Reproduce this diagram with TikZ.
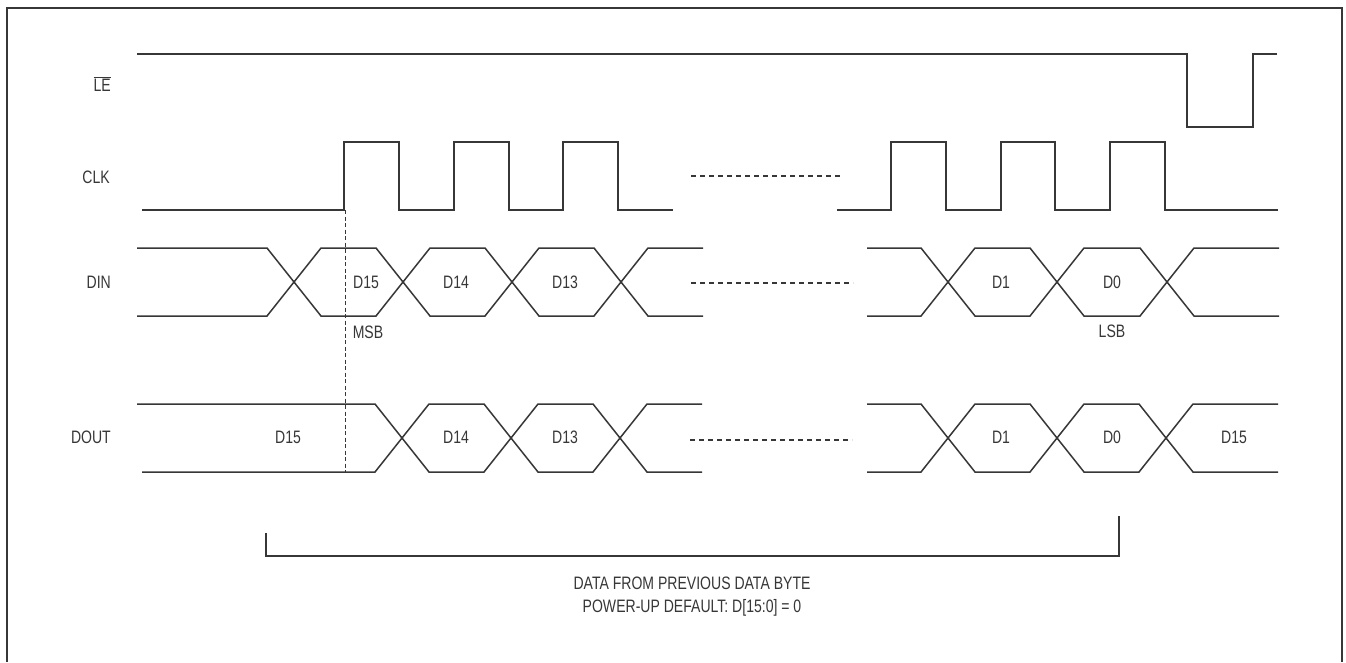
\documentclass[tikz,border=0pt]{standalone}
\usepackage{fontspec}
\setmainfont[FakeStretch=0.78]{Liberation Sans}
\definecolor{ink}{RGB}{55,55,55}
\newcommand\hexcell[4]{%
  \draw[sig] (#1,{(#3+#4)/2}) -- ({#1+27},#3) -- ({#2-27},#3) -- (#2,{(#3+#4)/2}) -- ({#2-27},#4) -- ({#1+27},#4) -- cycle;}
\newcommand\openleft[5]{% xstart xcross top bot xstartbottom
  \draw[sig] (#1,#3) -- ({#2-27},#3) -- (#2,{(#3+#4)/2}) -- ({#2-27},#4) -- (#5,#4);}
\newcommand\openright[4]{% xcross xend top bot
  \draw[sig] (#2,#3) -- ({#1+27},#3) -- (#1,{(#3+#4)/2}) -- ({#1+27},#4) -- (#2,#4);}
\begin{document}
\begin{tikzpicture}[x=1pt,y=-1pt,
  sig/.style={draw=ink,line width=1.5pt,line join=miter},
  dots/.style={draw=ink,line width=1.1pt,dash pattern=on 5pt off 4pt},
  lbl/.style={text=ink,font=\fontsize{18}{21}\selectfont,inner sep=0pt},
  rlbl/.style={lbl,anchor=east}]
\useasboundingbox (0,0) rectangle (1346,662);
\fill[white] (0,0) rectangle (1346,662);
% frame
\draw[ink,line width=2pt] (7,662) -- (7,8) -- (1342,8) -- (1342,662);
% labels
\node[rlbl] (lLE) at (111,84) {$\overline{\hbox{LE}}$};
\node[rlbl] (lCLK) at (110,177) {CLK};
\node[rlbl] (lDIN) at (111,282) {DIN};
\node[rlbl] (lDOUT) at (111,437) {DOUT};
% LE
\draw[sig] (137,54) -- (1187,54) -- (1187,127) -- (1253,127) -- (1253,54) -- (1277,54);
% CLK
\draw[sig] (142,210) -- (344,210) -- (344,142) -- (399,142) -- (399,210)
  -- (454,210) -- (454,142) -- (509,142) -- (509,210)
  -- (563,210) -- (563,142) -- (618,142) -- (618,210) -- (673,210);
\draw[sig] (837,210) -- (891,210) -- (891,142) -- (946,142) -- (946,210)
  -- (1001,210) -- (1001,142) -- (1055,142) -- (1055,210)
  -- (1110,210) -- (1110,142) -- (1165,142) -- (1165,210) -- (1278,210);
\coordinate (c1) at (691,176); \coordinate (c2) at (843,176);
\draw[dots] (c1) -- (c2);
% DIN
\openleft{137}{294}{248}{316}{137}
\hexcell{294}{403}{248}{316}
\hexcell{403}{512}{248}{316}
\hexcell{512}{621}{248}{316}
\openright{621}{703}{248}{316}
\openleft{867}{948}{248}{316}{867}
\hexcell{948}{1057}{248}{316}
\hexcell{1057}{1167}{248}{316}
\openright{1167}{1279}{248}{316}
\coordinate (d1) at (691,283); \coordinate (d2) at (853,283);
\draw[dots] (d1) -- (d2);
\node[lbl] (din15) at (366,282) {D15};
\node[lbl] (din14) at (456,282) {D14};
\node[lbl] (din13) at (565,282) {D13};
\node[lbl] (din1) at (1001,282) {D1};
\node[lbl] (din0) at (1112,282) {D0};
\node[lbl] (msb) at (368,332) {MSB};
\node[lbl] (lsb) at (1112,331) {LSB};
% DOUT
\openleft{137}{402}{404}{472}{142}
\hexcell{402}{511}{404}{472}
\hexcell{511}{620}{404}{472}
\openright{620}{702}{404}{472}
\openleft{867}{948}{404}{472}{867}
\hexcell{948}{1057}{404}{472}
\hexcell{1057}{1166}{404}{472}
\openright{1166}{1278}{404}{472}
\coordinate (o1) at (690,440); \coordinate (o2) at (852,440);
\draw[dots] (o1) -- (o2);
\node[lbl] (dout15) at (288,437) {D15};
\node[lbl] (dout14) at (456,437) {D14};
\node[lbl] (dout13) at (565,437) {D13};
\node[lbl] (dout1) at (1001,437) {D1};
\node[lbl] (dout0) at (1112,437) {D0};
\node[lbl] (dout15b) at (1234,437) {D15};
% MSB dashed marker
\coordinate (m1) at (345.5,210); \coordinate (m2) at (345.5,472);
\draw[ink,line width=1pt,dash pattern=on 4pt off 2.5pt] (m1) -- (m2);
% bracket
\coordinate (b1) at (266,533); \coordinate (b2) at (266,556);
\coordinate (b3) at (1119,556); \coordinate (b4) at (1119,516);
\draw[sig] (b1) -- (b2) -- (b3) -- (b4);
\node[lbl] (t1) at (692,583) {DATA FROM PREVIOUS DATA BYTE};
\node[lbl] (t2) at (692,608) {POWER-UP DEFAULT: D[15:0] = 0};
\end{tikzpicture}
\end{document}
